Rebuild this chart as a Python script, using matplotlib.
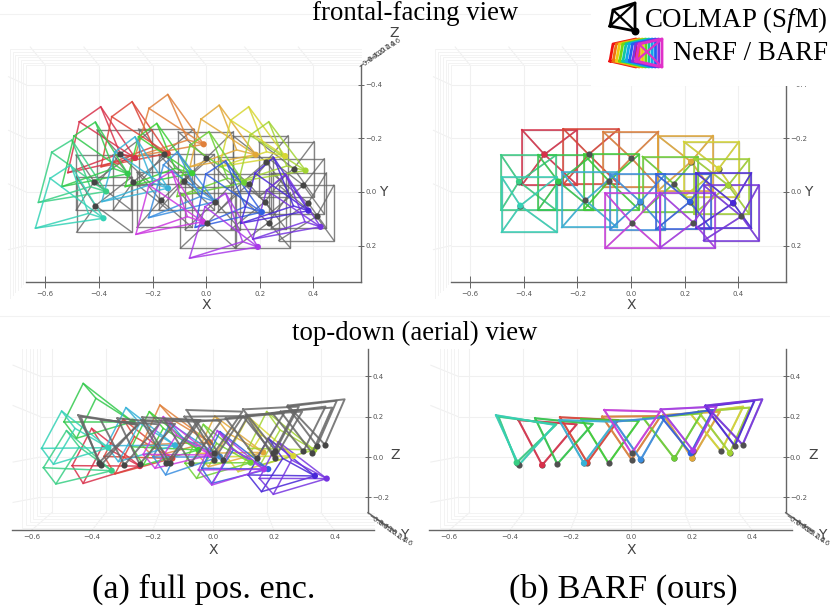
from __future__ import annotations

import matplotlib

matplotlib.use("Agg")
import matplotlib.pyplot as plt
from matplotlib.patches import Rectangle

plt.rcParams["mathtext.fontset"] = "custom"
plt.rcParams["mathtext.rm"] = "Liberation Serif"
plt.rcParams["mathtext.it"] = "Liberation Serif:italic"

WIDTH, HEIGHT = 830, 609

# one colour per camera, same order in every panel
cam_colors = [
    "#d8304a", "#dc4438", "#e0803a", "#e2a838", "#d6d632", "#38cf84",
    "#32c94c", "#3ccf34", "#6cd034", "#a2d432", "#36b2d8", "#34d2b6",
    "#3a8ee0", "#305ee0", "#4826d8", "#cc38e0", "#a838e8", "#7634e0",
]

# reference poses, frontal view
gt_x = [-0.323, -0.158, 0.001, 0.224, 0.327, -0.418, -0.271, -0.082, 0.159,
        0.363, -0.170, -0.413, 0.035, 0.220, 0.381, 0.004, 0.233, 0.412]
gt_y = [-0.140, -0.140, -0.127, -0.113, -0.087, -0.039, -0.039, -0.041, -0.031,
        -0.025, 0.031, 0.051, 0.036, 0.036, 0.041, 0.116, 0.114, 0.091]
rect_x = [-0.304, -0.149, -0.001, 0.203, 0.300, -0.382, -0.244, -0.073, 0.146,
          0.338, -0.155, -0.380, 0.025, 0.196, 0.346, 0.007, 0.211, 0.374]
rect_y = [-0.129, -0.132, -0.122, -0.107, -0.085, -0.035, -0.036, -0.037, -0.029,
          -0.021, 0.029, 0.047, 0.037, 0.036, 0.032, 0.107, 0.105, 0.078]
rect_half = 0.103

# full pos. enc. poses, frontal view: dot, then quad corners
full_x = [-0.265, -0.143, -0.009, 0.185, 0.295, -0.373, -0.292, -0.052, 0.142,
          0.371, -0.142, -0.383, 0.034, 0.208, 0.382, -0.012, 0.193, 0.427]
full_y = [-0.127, -0.144, -0.178, -0.139, -0.134, -0.002, -0.068, -0.070, -0.035,
          -0.080, -0.014, 0.098, 0.036, 0.075, 0.070, 0.111, 0.205, 0.130]
full_quad_x = [
    [-0.473, -0.393, -0.321, -0.516], [-0.352, -0.276, -0.197, -0.392],
    [-0.213, -0.143, -0.068, -0.265], [-0.019, 0.049, 0.114, -0.060],
    [0.092, 0.159, 0.226, 0.049], [-0.576, -0.501, -0.433, -0.626],
    [-0.493, -0.413, -0.346, -0.539], [-0.252, -0.184, -0.116, -0.302],
    [-0.060, 0.011, 0.080, -0.109], [0.164, 0.234, 0.301, 0.121],
    [-0.340, -0.265, -0.197, -0.389], [-0.582, -0.505, -0.439, -0.637],
    [-0.159, -0.107, -0.022, -0.215], [-0.001, 0.073, 0.146, -0.041],
    [0.183, 0.252, 0.326, 0.129], [-0.213, -0.128, -0.070, -0.262],
    [-0.004, 0.073, 0.136, -0.062], [0.226, 0.297, 0.369, 0.174],
]
full_quad_y = [
    [-0.262, -0.318, -0.144, -0.072], [-0.281, -0.337, -0.169, -0.094],
    [-0.312, -0.364, -0.194, -0.132], [-0.272, -0.324, -0.157, -0.094],
    [-0.268, -0.318, -0.150, -0.094], [-0.148, -0.194, -0.020, 0.039],
    [-0.209, -0.261, -0.088, -0.020], [-0.206, -0.256, -0.088, -0.020],
    [-0.175, -0.225, -0.051, 0.017], [-0.212, -0.262, -0.097, -0.039],
    [-0.150, -0.206, -0.032, 0.036], [-0.051, -0.101, 0.080, 0.135],
    [-0.101, -0.150, 0.017, 0.096], [-0.067, -0.116, 0.055, 0.132],
    [-0.070, -0.129, 0.052, 0.117], [-0.026, -0.078, 0.092, 0.158],
    [0.055, 0.005, 0.185, 0.247], [-0.007, -0.067, 0.111, 0.176],
]

# reference poses, top-down view: dot and the two ends of the flat image plane
top_x = [-0.293, -0.144, 0.002, 0.202, 0.297, -0.377, -0.243, -0.074, 0.143,
         0.326, -0.155, -0.370, 0.032, 0.197, 0.342, 0.002, 0.205, 0.368]
top_z = [-0.040, -0.028, -0.013, -0.007, 0.028, -0.028, -0.035, -0.031, -0.007,
         0.020, -0.031, -0.040, -0.013, 0.018, 0.055, 0.018, 0.031, 0.061]
top_left_x = [-0.371, -0.234, -0.095, 0.107, 0.195, -0.437, -0.316, -0.163, 0.041,
              0.222, -0.237, -0.445, -0.055, 0.099, 0.244, -0.088, 0.098, 0.246]
top_left_z = [0.183, 0.197, 0.200, 0.208, 0.217, 0.200, 0.192, 0.188, 0.192,
              0.225, 0.183, 0.207, 0.175, 0.200, 0.250, 0.233, 0.236, 0.255]
top_right_x = [-0.179, -0.042, 0.098, 0.293, 0.370, -0.246, -0.126, 0.026, 0.233,
               0.392, -0.053, -0.251, 0.112, 0.271, 0.407, 0.096, 0.282, 0.433]
top_right_z = [0.162, 0.183, 0.203, 0.225, 0.250, 0.162, 0.164, 0.179, 0.217,
               0.245, 0.175, 0.159, 0.197, 0.233, 0.279, 0.225, 0.250, 0.286]

# full pos. enc. poses, top-down view
full_top_x = [-0.242, -0.135, -0.011, 0.165, 0.264, -0.335, -0.266, -0.049, 0.123,
              0.333, -0.126, -0.346, 0.022, 0.181, 0.335, -0.009, 0.167, 0.374]
full_top_z = [-0.045, -0.007, 0.073, 0.023, 0.005, -0.068, 0.175, 0.035, -0.028,
              0.035, 0.058, 0.046, 0.002, -0.060, -0.094, 0.010, -0.061, -0.107]
full_top_quad_x = [
    [-0.465, -0.401, -0.365, -0.429], [-0.360, -0.297, -0.260, -0.324],
    [-0.236, -0.176, -0.132, -0.198], [-0.055, 0.005, 0.049, -0.016],
    [0.044, 0.115, 0.159, 0.082], [-0.560, -0.484, -0.442, -0.519],
    [-0.492, -0.429, -0.387, -0.451], [-0.269, -0.211, -0.165, -0.231],
    [-0.093, -0.033, 0.011, -0.055], [0.115, 0.176, 0.220, 0.154],
    [-0.352, -0.288, -0.242, -0.313], [-0.566, -0.500, -0.456, -0.527],
    [-0.198, -0.143, -0.099, -0.157], [-0.038, 0.022, 0.066, -0.005],
    [0.115, 0.181, 0.229, 0.159], [-0.231, -0.165, -0.121, -0.192],
    [-0.049, 0.013, 0.060, -0.005], [0.152, 0.214, 0.258, 0.198],
]
full_top_quad_z = [
    [-0.043, 0.142, 0.055, -0.131], [0.003, 0.188, 0.101, -0.084],
    [0.060, 0.258, 0.183, 0.002], [0.018, 0.203, 0.117, -0.048],
    [0.002, 0.200, 0.109, -0.073], [-0.053, 0.131, 0.050, -0.134],
    [0.175, 0.365, 0.291, 0.093], [0.051, 0.225, 0.142, -0.040],
    [-0.031, 0.162, 0.068, -0.106], [0.043, 0.225, 0.134, -0.040],
    [0.056, 0.245, 0.167, -0.023], [0.043, 0.228, 0.142, -0.036],
    [0.002, 0.167, 0.093, -0.089], [-0.056, 0.126, 0.035, -0.131],
    [-0.089, 0.093, -0.007, -0.172], [0.013, 0.200, 0.109, -0.056],
    [-0.064, 0.131, 0.043, -0.139], [-0.106, 0.076, -0.015, -0.185],
]

# BARF cameras whose dot stays coloured on top of the grey one
frontal_coloured = [0, 3, 4, 5, 6, 9, 11, 12, 13, 14]
top_coloured = [0, 1, 3, 5, 8, 9, 10, 12, 13, 16]

x_ticks = [-0.6, -0.4, -0.2, 0.0, 0.2, 0.4]
y_ticks = [-0.4, -0.2, 0.0, 0.2]
z_ticks = [-0.2, 0.0, 0.2, 0.4]
depth_labels = ["\u22120.6", "\u22120.4", "\u22120.2", "0.0", "0.2", "0.4", "0.6"]

legend_colors = ["#f01010", "#f07010", "#f0c810", "#70d810", "#10c8a0", "#10a8e8", "#2060f0", "#8030e0", "#e030c8"]
legend_quad_x = [610, 635, 635, 613]
legend_quad_y = [26, 31, 3, 10]
rainbow_quad_x = [610, 636, 636, 613]
rainbow_quad_y = [61, 67, 39, 44]

GRID = "#f0f0f0"
PANE = "#f3f3f3"
TICK = "#555555"
GREY = "#666666"


def tick_text(values):
    return [f"{v:.1f}".replace("-", "\u2212") for v in values]


def make_axes(fig, box, x0, y0, sx, sy, flip):
    left, top, right, bottom = box
    ax = fig.add_axes([left / WIDTH, 1 - bottom / HEIGHT, (right - left) / WIDTH, (bottom - top) / HEIGHT])
    ax.set_xlim((left - x0) / sx, (right - x0) / sx)
    if flip:
        ax.set_ylim((bottom - y0) / sy, (top - y0) / sy)
    else:
        ax.set_ylim((y0 - bottom) / sy, (y0 - top) / sy)
    ax.patch.set_alpha(0)
    ax.spines["top"].set_visible(False)
    ax.spines["left"].set_visible(False)
    return ax


def style_axis(ax, x_range, y_range, y_values, bottom_at, tick_len):
    ax.spines["bottom"].set_position(("data", bottom_at))
    ax.spines["bottom"].set_bounds(*x_range)
    ax.spines["right"].set_position(("data", x_range[1] if tick_len else 0.51))
    ax.spines["right"].set_bounds(*y_range)
    for side in ("bottom", "right"):
        ax.spines[side].set_color("#666666")
        ax.spines[side].set_linewidth(1.0)
    ax.set_xticks(x_ticks, tick_text(x_ticks))
    ax.yaxis.tick_right()
    ax.set_yticks(y_values, tick_text(y_values))
    ax.tick_params(axis="x", length=tick_len, width=0.7, color="#666666", labelsize=5, labelcolor=TICK, direction="inout", pad=2.5)
    ax.tick_params(axis="y", length=5, width=0.7, color="#666666", labelsize=5, labelcolor=TICK, direction="inout", pad=0.5)


def draw_frontal_pane(ax, x_range, y_range):
    for x in x_ticks:
        ax.plot([x, x], y_range, color=GRID, lw=0.8, zorder=1)
        ax.plot([x, x - 0.056], [y_range[0], y_range[0] - 0.068], color=GRID, lw=0.8, zorder=1)
    for y in y_ticks:
        ax.plot(x_range, [y, y], color=GRID, lw=0.8, zorder=1)
        ax.plot([x_range[0], x_range[0] - 0.065], [y, y - 0.03 if y < 0.1 else y + 0.015], color=GRID, lw=0.8, zorder=1)
    for step in range(7):
        x_left = x_range[0] - 0.01 * step
        y_top = y_range[0] - 0.0098 * step
        y_bottom = y_range[1] + 0.0098 * step
        ax.plot([x_range[1], x_left, x_left], [y_top, y_top, y_bottom], color=PANE, lw=0.7, zorder=1)


def draw_top_pane(ax, x_range, z_range):
    back = 0.888
    x_back_left = -0.570
    z_back = -0.276
    for x in x_ticks:
        ax.plot([x * back, x * back], [z_back, z_range[1]], color=GRID, lw=0.8, zorder=1)
        ax.plot([x * back, x], [z_back, z_range[0]], color=GRID, lw=0.8, zorder=1)
    for z in z_ticks:
        ax.plot([x_back_left, x_range[1]], [z, z], color=GRID, lw=0.8, zorder=1)
        ax.plot([x_back_left, x_back_left - 0.09], [z, z + (0.055 if z > 0.1 else -0.025)], color=GRID, lw=0.8, zorder=1)
    for step in range(6):
        x_left = x_back_left - 0.012 * step
        z_bottom = z_back - 0.015 * step
        ax.plot([x_left, x_left, x_range[1]], [z_range[1], z_bottom, z_bottom], color=PANE, lw=0.7, zorder=1)


def draw_rects(ax, color, lw, alpha, z):
    for i in range(len(gt_x)):
        x0, x1 = rect_x[i] - rect_half, rect_x[i] + rect_half
        y0, y1 = rect_y[i] - rect_half, rect_y[i] + rect_half
        line_color = color or cam_colors[i]
        ax.plot([x0, x1, x1, x0, x0], [y0, y0, y1, y1, y0], color=line_color, lw=lw, alpha=alpha, zorder=z)
        for cx, cy in ((x0, y0), (x1, y0), (x1, y1), (x0, y1)):
            ax.plot([gt_x[i], cx], [gt_y[i], cy], color=line_color, lw=lw, alpha=alpha, zorder=z)


def draw_quads(ax, dot_x, dot_y, quad_x, quad_y, lw, alpha, z):
    for i in range(len(dot_x)):
        xs = quad_x[i] + quad_x[i][:1]
        ys = quad_y[i] + quad_y[i][:1]
        ax.plot(xs, ys, color=cam_colors[i], lw=lw, alpha=alpha, zorder=z)
        for cx, cy in zip(quad_x[i], quad_y[i]):
            ax.plot([dot_x[i], cx], [dot_y[i], cy], color=cam_colors[i], lw=lw, alpha=alpha, zorder=z)


def draw_vees(ax, color, lw, alpha, z):
    for i in range(len(top_x)):
        line_color = color or cam_colors[i]
        xs = [top_left_x[i], top_x[i], top_right_x[i], top_left_x[i]]
        zs = [top_left_z[i], top_z[i], top_right_z[i], top_left_z[i]]
        ax.plot(xs, zs, color=line_color, lw=lw, alpha=alpha, zorder=z)


def draw_dots(ax, xs, ys, colors, z):
    ax.scatter(xs, ys, s=20, c=colors, linewidths=0, zorder=z)


def depth_stack(ax, x_start, y_start, dx, dy, rotation):
    for i, label in enumerate(depth_labels):
        ax.text(x_start + dx * i, y_start + dy * i, label, fontsize=5, color="#444444",
                rotation=rotation, ha="center", va="center", clip_on=False)


def draw_frontal(ax):
    x_range = (-0.672, 0.579)
    y_range = (-0.473, 0.335)
    draw_frontal_pane(ax, x_range, y_range)
    style_axis(ax, x_range, y_range, y_ticks, 0.335, 8)
    ax.text(0.0, 0.42, "X", fontsize=10, color="#444444", ha="center", va="center")
    ax.text(0.66, 0.0, "Y", fontsize=10, color="#444444", ha="center", va="center")
    ax.text(0.70, -0.595, "Z", fontsize=10, color="#444444", ha="center", va="center")
    depth_stack(ax, 0.597, -0.485, 0.0185, -0.0125, 35)


def draw_top(ax):
    x_range = (-0.665, 0.53)
    z_range = (-0.364, 0.535)
    draw_top_pane(ax, x_range, z_range)
    style_axis(ax, x_range, (-0.276, 0.535), z_ticks, -0.364, 0)
    ax.plot([0.51, 0.60], [-0.276, -0.37], color="#666666", lw=1.0, zorder=2, clip_on=False)
    ax.text(0.0, -0.46, "X", fontsize=10, color="#444444", ha="center", va="center")
    ax.text(0.60, 0.01, "Z", fontsize=10, color="#444444", ha="center", va="center")
    ax.text(0.629, -0.387, "Y", fontsize=10, color="#444444", ha="center", va="center")
    depth_stack(ax, 0.533, -0.312, 0.0176, -0.018, -35)


def main() -> None:
    fig = plt.figure(figsize=(WIDTH / 100, HEIGHT / 100), dpi=100)
    fig.patch.set_facecolor("white")

    frontal_a = make_axes(fig, (0, 15, 415, 312), 206.1, 192, 268, 268, True)
    frontal_b = make_axes(fig, (415, 15, 830, 312), 631, 192, 268, 268, True)
    top_a = make_axes(fig, (0, 348, 415, 560), 213.3, 457, 303.3, 201.7, False)
    top_b = make_axes(fig, (415, 348, 830, 560), 631, 457, 303.3, 201.7, False)

    for ax in (frontal_a, frontal_b):
        draw_frontal(ax)
    for ax in (top_a, top_b):
        draw_top(ax)

    draw_rects(frontal_a, GREY, 1.0, 0.8, 3)
    draw_quads(frontal_a, full_x, full_y, full_quad_x, full_quad_y, 1.1, 0.85, 4)
    draw_dots(frontal_a, full_x, full_y, cam_colors, 5)
    draw_dots(frontal_a, gt_x, gt_y, "#454545", 6)

    draw_rects(frontal_b, GREY, 1.0, 0.5, 3)
    draw_rects(frontal_b, None, 1.25, 0.85, 4)
    draw_dots(frontal_b, gt_x, gt_y, "#505050", 5)
    draw_dots(frontal_b, [gt_x[i] for i in frontal_coloured], [gt_y[i] for i in frontal_coloured],
              [cam_colors[i] for i in frontal_coloured], 6)

    draw_quads(top_a, full_top_x, full_top_z, full_top_quad_x, full_top_quad_z, 1.1, 0.85, 3)
    draw_dots(top_a, full_top_x, full_top_z, cam_colors, 4)
    draw_vees(top_a, GREY, 1.4, 0.85, 5)
    draw_dots(top_a, top_x, top_z, "#454545", 6)

    draw_vees(top_b, GREY, 1.2, 0.5, 3)
    draw_vees(top_b, None, 1.5, 0.9, 4)
    draw_dots(top_b, top_x, top_z, "#505050", 5)
    draw_dots(top_b, [top_x[i] for i in top_coloured], [top_z[i] for i in top_coloured],
              [cam_colors[i] for i in top_coloured], 6)

    # overlay in pixels for the legend box, rules and captions
    over = fig.add_axes([0, 0, 1, 1])
    over.set_xlim(0, WIDTH)
    over.set_ylim(HEIGHT, 0)
    over.axis("off")
    over.patch.set_alpha(0)
    over.plot([0, 830], [14, 14], color="#f2f2f2", lw=0.8)
    over.plot([0, 830], [316, 316], color="#f2f2f2", lw=0.8)
    over.add_patch(Rectangle((591, 0), 239, 86, facecolor="white", edgecolor="none", zorder=2))

    xs = legend_quad_x + legend_quad_x[:1]
    ys = legend_quad_y + legend_quad_y[:1]
    over.plot(xs, ys, color="black", lw=2.0, zorder=3)
    over.plot([legend_quad_x[3], legend_quad_x[1]], [legend_quad_y[3], legend_quad_y[1]], color="black", lw=1.6, zorder=3)
    over.plot([legend_quad_x[0], legend_quad_x[2]], [legend_quad_y[0], legend_quad_y[2]], color="black", lw=1.6, zorder=3)
    over.scatter([legend_quad_x[1]], [legend_quad_y[1]], s=22, c="black", zorder=3)

    step = 3.25
    for i, color in enumerate(legend_colors):
        xs = [x + i * step for x in rainbow_quad_x + rainbow_quad_x[:1]]
        ys = rainbow_quad_y + rainbow_quad_y[:1]
        over.plot(xs, ys, color=color, lw=2.0, zorder=3 + i * 0.01)
    last = len(legend_colors) - 1
    shift = last * step
    over.plot([rainbow_quad_x[3] + shift, rainbow_quad_x[1] + shift], [rainbow_quad_y[3], rainbow_quad_y[1]], color=legend_colors[last], lw=1.6, zorder=4)
    over.plot([rainbow_quad_x[0] + shift, rainbow_quad_x[2] + shift], [rainbow_quad_y[0], rainbow_quad_y[2]], color=legend_colors[last], lw=1.6, zorder=4)

    serif = "Liberation Serif"
    over.text(415, 13, "frontal-facing view", family=serif, fontsize=19.3, ha="center", va="center", zorder=5)
    over.text(415, 333, "top-down (aerial) view", family=serif, fontsize=19.3, ha="center", va="center", zorder=5)
    over.text(828, 20, "COLMAP (S$\\mathit{f}$M)", family=serif, fontsize=19.4, ha="right", va="center", zorder=5)
    over.text(828, 53, "NeRF / BARF", family=serif, fontsize=19.4, ha="right", va="center", zorder=5)
    over.text(204, 589, "(a) full pos. enc.", family=serif, fontsize=24.7, ha="center", va="center", zorder=5)
    over.text(623, 589, "(b) BARF (ours)", family=serif, fontsize=24.7, ha="center", va="center", zorder=5)

    fig.savefig("out.png", dpi=100)
    plt.close(fig)


if __name__ == "__main__":
    main()
